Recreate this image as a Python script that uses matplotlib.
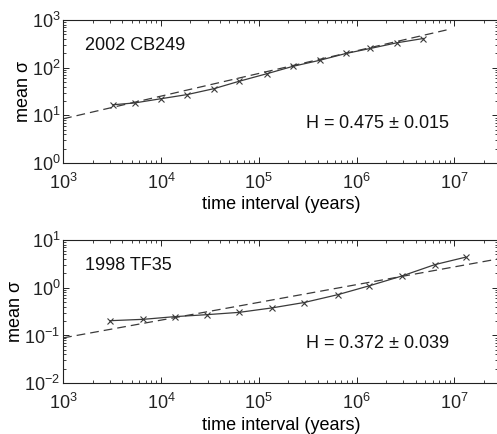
import numpy as np
import matplotlib
matplotlib.use("Agg")
import matplotlib.pyplot as plt
from matplotlib.ticker import LogLocator, NullFormatter

plt.rcParams["font.family"] = ["Liberation Sans", "DejaVu Sans"]
plt.rcParams["mathtext.fontset"] = "custom"
plt.rcParams["mathtext.rm"] = "Liberation Sans"
plt.rcParams["mathtext.it"] = "Liberation Sans:italic"
plt.rcParams["mathtext.default"] = "regular"

# 2002 CB249
cb_t = [3.2e3, 5.4e3, 1.0e4, 1.86e4, 3.5e4, 6.3e4, 1.2e5, 2.24e5, 4.2e5, 7.8e5, 1.38e6, 2.57e6, 4.8e6]
cb_sigma = [16.7, 18.3, 22.4, 27.4, 36.5, 52, 74.5, 107, 143, 199, 253, 332, 409]
cb_H, cb_err, cb_y0 = 0.475, 0.015, 8.5
cb_fit_end = 8.3e6

# 1998 TF35
tf_t = [3.0e3, 6.6e3, 1.38e4, 2.95e4, 6.3e4, 1.35e5, 2.9e5, 6.4e5, 1.35e6, 2.9e6, 6.3e6, 1.3e7]
tf_sigma = [0.204, 0.218, 0.248, 0.273, 0.305, 0.377, 0.49, 0.715, 1.10, 1.76, 3.05, 4.37]
tf_H, tf_err, tf_y0 = 0.372, 0.039, 0.089
tf_fit_end = 2.8e7

XMIN, XMAX = 1e3, 10 ** 7.45
LINE = "#3a3a3a"


def draw_panel(ax, t, sigma, H, err, y0, fit_end, name, ylim):
    xf = np.array([XMIN, fit_end])
    ax.plot(xf, y0 * (xf / XMIN) ** H, linestyle=(0, (7, 4)), color=LINE, linewidth=0.9)
    ax.plot(t, sigma, color=LINE, linewidth=0.9, marker="x", markersize=5,
            markeredgewidth=0.8)
    ax.set_xscale("log")
    ax.set_yscale("log")
    ax.set_xlim(XMIN, XMAX)
    ax.set_ylim(*ylim)
    ax.xaxis.set_major_locator(LogLocator(base=10, numticks=10))
    ax.xaxis.set_minor_locator(LogLocator(base=10, subs=np.arange(2, 10), numticks=20))
    ax.yaxis.set_major_locator(LogLocator(base=10, numticks=10))
    ax.yaxis.set_minor_locator(LogLocator(base=10, subs=np.arange(2, 10), numticks=20))
    ax.xaxis.set_minor_formatter(NullFormatter())
    ax.yaxis.set_minor_formatter(NullFormatter())
    ax.tick_params(which="both", direction="in", top=True, right=True, colors="#222222",
                   labelsize=13)
    ax.tick_params(which="major", length=4, width=0.7)
    ax.tick_params(which="minor", length=2, width=0.6)
    ax.tick_params(axis="x", which="major", pad=7)
    ax.tick_params(axis="y", which="major", pad=2)
    for s in ax.spines.values():
        s.set_color("#222222")
        s.set_linewidth(0.8)
    ax.set_xlabel("time interval (years)", fontsize=13, labelpad=2.5)
    ax.set_ylabel("mean σ", fontsize=13, labelpad=0)
    ax.text(0.05, 0.88, name, transform=ax.transAxes, fontsize=13, va="top", color="#111111")
    ax.text(0.556, 0.28, "H = %.3f $\\pm$ %.3f" % (H, err), transform=ax.transAxes,
            fontsize=13, va="center", color="#111111")


fig = plt.figure(figsize=(4.97, 4.34), dpi=100)
ax1 = fig.add_axes([0.127, 0.624, 0.876, 0.330])
ax2 = fig.add_axes([0.127, 0.117, 0.876, 0.330])

draw_panel(ax1, cb_t, cb_sigma, cb_H, cb_err, cb_y0, cb_fit_end, "2002 CB249", (1, 1e3))
draw_panel(ax2, tf_t, tf_sigma, tf_H, tf_err, tf_y0, tf_fit_end, "1998 TF35", (1e-2, 10))

fig.savefig("out.png", dpi=100)
